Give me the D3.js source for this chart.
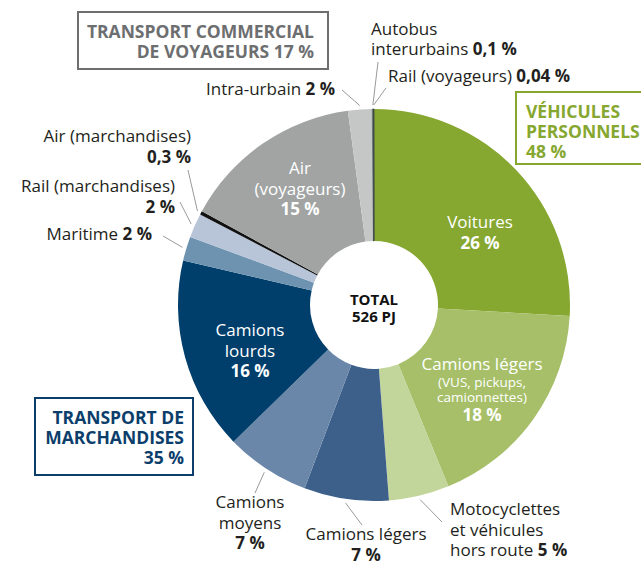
<!DOCTYPE html>
<html>
<head>
<meta charset="utf-8">
<script src="https://cdn.jsdelivr.net/npm/d3@7"></script>
<style>
  body { margin: 0; background: #fff; }
  svg { display: block; font-family: "Open Sans", sans-serif; }
</style>
</head>
<body>
<script>
// data
const categories = ["Voitures", "Camions légers (VUS)", "Motocyclettes et véhicules hors route",
  "Camions légers", "Camions moyens", "Camions lourds", "Maritime", "Rail (marchandises)",
  "Air (marchandises)", "Air (voyageurs)", "Intra-urbain", "Autobus interurbains", "Rail (voyageurs)"]
const shares = [26, 18, 5, 7, 7, 16, 2, 2, 0.3, 15, 2, 0.1, 0.04]
const shareText = ["26 %", "18 %", "5 %", "7 %", "7 %", "16 %", "2 %", "2 %", "0,3 %", "15 %", "2 %", "0,1 %", "0,04 %"]
const sliceColors = ["#86a730", "#a6bf68", "#c2d59a", "#3d608b", "#6a87a9", "#003e6b",
  "#6d93b0", "#b8c4d8", "#111111", "#a1a4a3", "#c5c7c6", "#5a6969", "#3c4848"]

const groupNames = [["TRANSPORT COMMERCIAL", "DE VOYAGEURS 17 %"], ["VÉHICULES", "PERSONNELS", "48 %"], ["TRANSPORT DE", "MARCHANDISES", "35 %"]]
const groupColors = ["#6d6e70", "#86a730", "#0b3e6b"]
const totalText = ["TOTAL", "526 PJ"]

const m = { width: 641, height: 561 }
const cx = 374, cy = 305, R = 196, r0 = 64
const fs = 17

const svg = d3.select("body").append("svg")
  .attr("width", m.width)
  .attr("height", m.height)

const pie = d3.pie().sort(null).value(d => d)
const arcs = pie(shares)
const arc = d3.arc().innerRadius(r0).outerRadius(R)

const g = svg.append("g").attr("transform", `translate(${cx},${cy})`)

g.selectAll("path")
  .data(arcs)
  .enter()
  .append("path")
    .attr("d", arc)
    .attr("fill", (d, i) => sliceColors[i])
    .attr("stroke", (d, i) => i >= 11 ? sliceColors[i] : "none")
    .attr("stroke-width", 0.8)

// label layout: slice index, lines ([text, bold, size, gap, bold suffix]), position, anchor, colour, leader end
const lbl = (i, lines, x, y, anchor, fill, lead) => ({ i, lines, x, y, anchor, fill, lead })
const labels = [
  lbl(0, [[categories[0]], [shareText[0], 1]], 480, 228, "middle", "#fff"),
  lbl(1, [["Camions légers"], ["(VUS, pickups,", 0, 13.5, 17], ["camionnettes)", 0, 13.5, 15], [shareText[1], 1, fs, 19]], 482, 370, "middle", "#fff"),
  lbl(2, [["Motocyclettes"], ["et véhicules"], ["hors route ", 0, fs, 20, shareText[2]]], 450, 515, "start", "#231f20", [442, 522]),
  lbl(3, [[categories[3]], [shareText[3], 1]], 366, 540, "middle", "#231f20", [362, 525]),
  lbl(4, [["Camions"], ["moyens"], [shareText[4], 1]], 250, 508, "middle", "#231f20", [255, 493]),
  lbl(5, [["Camions"], ["lourds"], [shareText[5], 1]], 250, 336, "middle", "#fff"),
  lbl(6, [["Maritime ", 0, fs, 0, shareText[6]]], 152, 240, "end", "#231f20", [163, 236]),
  lbl(7, [[categories[7]], [shareText[7], 1]], 175, 192, "end", "#231f20", [180, 202]),
  lbl(8, [[categories[8]], [shareText[8], 1]], 191, 142, "end", "#231f20", [188, 170]),
  lbl(9, [["Air"], ["(voyageurs)"], [shareText[9], 1]], 300, 174, "middle", "#fff"),
  lbl(10, [["Intra-urbain ", 0, fs, 0, shareText[10]]], 335, 95, "end", "#231f20", [342, 90]),
  lbl(11, [["Autobus"], ["interurbains ", 0, fs, 20, shareText[11]]], 371, 35, "start", "#231f20", [378, 62]),
  lbl(12, [["Rail (voyageurs) ", 0, fs, 0, shareText[12]]], 388, 82, "start", "#231f20", [386, 88])
]

// leader lines from the slice edge to the label
labels.filter(d => d.lead).forEach(d => {
  const a = (arcs[d.i].startAngle + arcs[d.i].endAngle) / 2
  svg.append("line")
    .attr("x1", cx + (R + 4) * Math.sin(a))
    .attr("y1", cy - (R + 4) * Math.cos(a))
    .attr("x2", d.lead[0])
    .attr("y2", d.lead[1])
    .attr("stroke", "#9a9a9a")
    .attr("stroke-width", 1)
})

labels.forEach(d => {
  const t = svg.append("text")
    .attr("text-anchor", d.anchor)
    .attr("fill", d.fill)
  let y = d.y
  d.lines.forEach((ln, k) => {
    const size = ln[2] || fs
    if (k > 0) y += (ln[3] !== undefined ? ln[3] : 20.5)
    t.append("tspan")
      .attr("x", d.x)
      .attr("y", y)
      .attr("font-size", size + "px")
      .attr("font-weight", ln[1] ? 700 : 400)
      .text(ln[0])
    if (ln[4]) {
      t.append("tspan")
        .attr("font-size", size + "px")
        .attr("font-weight", 700)
        .text(ln[4])
    }
  })
})

// total in the centre
svg.append("text")
  .attr("text-anchor", "middle")
  .attr("font-size", "15px")
  .attr("font-weight", 700)
  .attr("fill", "#111")
  .selectAll("tspan")
  .data(totalText)
  .enter()
  .append("tspan")
    .attr("x", cx)
    .attr("y", (d, i) => 305 + i * 17)
    .text(d => d)

// group boxes
const boxes = [
  { x: 78, y: 12, w: 250, h: 57, tx: 314, ty: 38, anchor: "end" },
  { x: 516, y: 92, w: 140, h: 72, tx: 526, ty: 118, anchor: "start" },
  { x: 35, y: 398, w: 158, h: 77, tx: 184, ty: 424, anchor: "end" }
]
boxes.forEach((b, i) => {
  svg.append("rect")
    .attr("x", b.x).attr("y", b.y)
    .attr("width", b.w).attr("height", b.h)
    .attr("fill", "#fff")
    .attr("stroke", groupColors[i])
    .attr("stroke-width", 2)
  svg.append("text")
    .attr("text-anchor", b.anchor)
    .attr("fill", groupColors[i])
    .attr("font-size", "17.5px")
    .attr("font-weight", 700)
    .selectAll("tspan")
    .data(groupNames[i])
    .enter()
    .append("tspan")
      .attr("x", b.tx)
      .attr("y", (d, k) => b.ty + k * 20)
      .text(d => d)
})
</script>
</body>
</html>
